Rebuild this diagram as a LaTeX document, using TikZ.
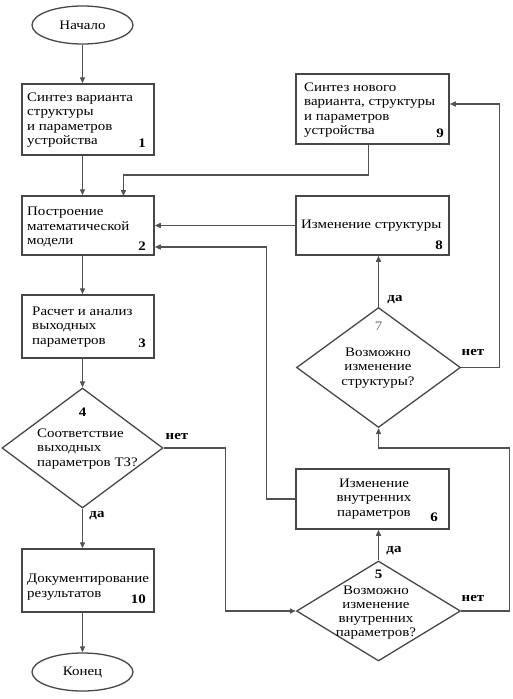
\documentclass[tikz,border=0pt]{standalone}
\usepackage{fontspec}
\setmainfont{Liberation Serif}[FakeStretch=1.15]
\usetikzlibrary{shapes.geometric,arrows.meta,calc}
\begin{document}
\begin{tikzpicture}[x=1pt,y=-1pt,
  every node/.style={font=\fontsize{13}{14.5}\selectfont},
  ln/.style={draw=black!68, line width=1.4pt},
  arr/.style={ln, -{Triangle[length=6pt,width=5pt]}},
  box/.style={draw=black!72, line width=1.5pt, rectangle, inner sep=0pt, fill=white},
  term/.style={draw=black!72, line width=1.3pt, ellipse, minimum width=101pt, minimum height=38pt, inner sep=0pt},
  dia/.style={draw=black!72, line width=1.3pt, diamond, inner sep=0pt},
  txt/.style={align=left, inner sep=0pt, anchor=west},
  ctxt/.style={align=center, inner sep=0pt},
  num/.style={font=\fontsize{13}{14}\selectfont\bfseries, inner sep=0pt, anchor=base east},
  lab/.style={font=\fontsize{13}{14}\selectfont\bfseries, inner sep=0pt}]
\useasboundingbox (0,0) rectangle (512,699);

% terminals
\node[term] (start) at (82.5,25) {Начало};
\node[term] (end) at (82.5,672) {Конец};

% left column boxes
\node[box, minimum width=132pt, minimum height=71pt] (b1) at (88,119.5) {};
\node[txt] (b1t) at (27,120) {Синтез\ варианта\\структуры\\и параметров\\устройства};
\node[num] (b1n) at (146,147) {1};

\node[box, minimum width=132pt, minimum height=59pt] (b2) at (88,225.5) {};
\node[txt] (b2t) at (27,227) {Построение\\математической\\модели};
\node[num] (b2n) at (146,250) {2};

\node[box, minimum width=132pt, minimum height=63pt] (b3) at (88,326.5) {};
\node[txt] (b3t) at (32,327) {Расчет и анализ\\выходных\\параметров};
\node[num] (b3n) at (146,347) {3};

\node[box, minimum width=132pt, minimum height=63pt] (b10) at (88,580.5) {};
\node[txt] (b10t) at (27,587) {Документирование\\результатов};
\node[num] (b10n) at (146,603) {10};

% right column boxes
\node[box, minimum width=153pt, minimum height=70pt] (b9) at (372.5,109) {};
\node[txt] (b9t) at (304,110) {Синтез нового\\варианта, структуры\\и параметров\\устройства};
\node[num] (b9n) at (444,137) {9};

\node[box, minimum width=153pt, minimum height=59pt] (b8) at (372.5,225.5) {};
\node[txt] (b8t) at (301,226) {Изменение структуры};
\node[num] (b8n) at (443,249) {8};

\node[box, minimum width=153pt, minimum height=60pt] (b6) at (372.5,499) {};
\node[ctxt] (b6t) at (374,499) {Изменение\\внутренних\\параметров};
\node[num] (b6n) at (438,521) {6};

% decisions
\node[dia, minimum width=161pt, minimum height=120pt] (d4) at (82.5,448) {};
\node[lab] (d4n) at (82.5,412) {4};
\node[txt] (d4t) at (37,449) {Соответствие\\выходных\\параметров ТЗ?};

\node[dia, minimum width=164pt, minimum height=120pt] (d7) at (378.5,367.5) {};
\node[inner sep=0pt, text=black!60] (d7n) at (378.5,326) {7};
\node[ctxt] (d7t) at (378,368) {Возможно\\изменение\\структуры?};

\node[dia, minimum width=164pt, minimum height=100pt] (d5) at (378.5,611) {};
\node[lab] (d5n) at (378.5,574) {5};
\node[ctxt, font=\fontsize{13}{14}\selectfont] (d5t) at (376,613) {Возможно\\изменение\\внутренних\\параметров?};

% labels
\node[lab] (l4y) at (97,516) {да};
\node[lab] (l4n) at (177,436) {нет};
\node[lab] (l7y) at (395,300) {да};
\node[lab] (l7n) at (473,352) {нет};
\node[lab] (l5y) at (394,551) {да};
\node[lab] (l5n) at (473,598) {нет};

% main flow
\draw[arr] (start.south) -- (start.south |- b1.north);
\draw[arr] (start.south |- b1.south) -- (start.south |- b2.north);
\draw[arr] (start.south |- b2.south) -- (start.south |- b3.north);
\draw[arr] (start.south |- b3.south) -- (d4.north);
\draw[arr] (d4.south) -- (d4.south |- b10.north);
\draw[arr] (d4.south |- b10.south) -- (end.north);

% no from 4
\draw[arr] (d4.east) -- (225.5,448) |- (d5.west);
% yes from 5
\draw[arr] (d5.north) -- (d5.north |- b6.south);
% no from 5
\draw[arr] (d5.east) -| (509.5,448) -| (d7.south);
% yes from 7
\draw[arr] (d7.north) -- (d7.north |- b8.south);
% no from 7
\draw[arr] (d7.east) -| (499.5,104) -- (b9.east |- 0,104);
% 8 -> 2
\draw[arr] (b8.west) -- (b8.west -| b2.east);
% 6 -> 2
\draw[arr] (b6.west) -| (266.5,247) -- (b2.east |- 0,247);
% 9 -> 2
\draw[arr] (368.5,144) |- (123.5,175) -- (123.5,196);
\end{tikzpicture}
\end{document}
